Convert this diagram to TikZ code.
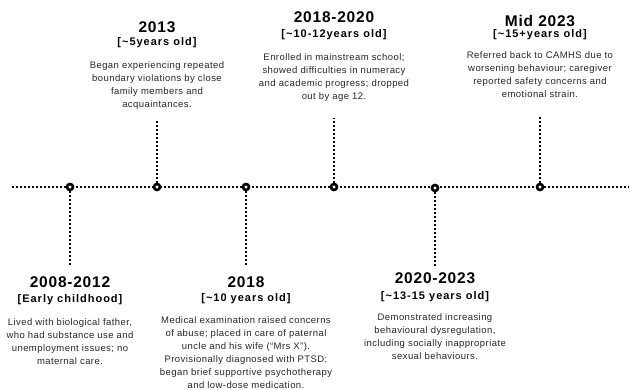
\documentclass[tikz,border=0pt]{standalone}
\usepackage{fontspec}
\setmainfont{Liberation Sans}
\newfontfamily\titlefont[LetterSpace=5]{Liberation Sans}
\newfontfamily\agefont[LetterSpace=9]{Liberation Sans}
\newfontfamily\bodyfont[LetterSpace=4.5]{Liberation Sans}

\begin{document}
\begin{tikzpicture}[x=1pt, y=-1pt]
    \tikzset{year/.style = {font=\titlefont\bfseries\fontsize{15.5}{18}\selectfont, inner sep=0pt}}
    \tikzset{age/.style = {font=\agefont\bfseries\fontsize{11}{13}\selectfont, inner sep=0pt}}
    \tikzset{note/.style = {font=\bodyfont\fontsize{9.5}{13}\selectfont, text=black!85, align=center, inner sep=0pt, anchor=north}}
    \tikzset{dots/.style = {draw, line width=2.2pt, dash pattern=on 1.6pt off 2.4pt}}
    \tikzset{ring/.style = {shape=circle, draw, fill=white, line width=2.6pt, minimum size=6pt, inner sep=0pt}}

    \useasboundingbox (0,0) rectangle (630,390);

    % timeline
    \coordinate (start) at (12,187);
    \coordinate (end) at (629,187);
    \draw[dots] (start) -- (end);

    % stub ends
    \coordinate (s1) at (70,267);
    \coordinate (s2) at (157,120);
    \coordinate (s3) at (246,267);
    \coordinate (s4) at (334,118);
    \coordinate (s5) at (435,267);
    \coordinate (s6) at (540,117);

    % rings
    \node[ring] (e1) at (70,187) {};
    \node[ring] (e2) at (157,187) {};
    \node[ring] (e3) at (246,187) {};
    \node[ring] (e4) at (334,187) {};
    \node[ring] (e5) at (435,188) {};
    \node[ring] (e6) at (540,187) {};

    % stubs
    \draw[dots] (e1) -- (s1);
    \draw[dots] (e2) -- (s2);
    \draw[dots] (e3) -- (s3);
    \draw[dots] (e4) -- (s4);
    \draw[dots] (e5) -- (s5);
    \draw[dots] (e6) -- (s6);

    % labels
    \node[year] (y1) at (70,282) {2008-2012};
    \node[age] (a1) at (70,300) {[Early childhood]};
    \node[note] (n1) at (70,318.5) {Lived with biological father,\\who had substance use and\\unemployment issues; no\\maternal care.};

    \node[year] (y2) at (157,27) {2013};
    \node[age] (a2) at (157,43) {[\textasciitilde5years old]};
    \node[note] (n2) at (157,61.5) {Began experiencing repeated\\boundary violations by close\\family members and\\acquaintances.};

    \node[year] (y3) at (246,282) {2018};
    \node[age] (a3) at (246,299) {[\textasciitilde10 years old]};
    \node[note] (n3) at (246,316.5) {Medical examination raised concerns\\of abuse; placed in care of paternal\\uncle and his wife (“Mrs X”).\\Provisionally diagnosed with PTSD;\\began brief supportive psychotherapy\\and low-dose medication.};

    \node[year] (y4) at (334,17) {2018-2020};
    \node[age] (a4) at (334,35) {[\textasciitilde10-12years old]};
    \node[note] (n4) at (334,53.5) {Enrolled in mainstream school;\\showed difficulties in numeracy\\and academic progress; dropped\\out by age 12.};

    \node[year] (y5) at (435,278) {2020-2023};
    \node[age] (a5) at (435,297) {[\textasciitilde13-15 years old]};
    \node[note] (n5) at (435,313) {Demonstrated increasing\\behavioural dysregulation,\\including socially inappropriate\\sexual behaviours.};

    \node[year] (y6) at (540,21) {Mid 2023};
    \node[age] (a6) at (540,35) {[\textasciitilde15+years old]};
    \node[note] (n6) at (540,51.5) {Referred back to CAMHS due to\\worsening behaviour; caregiver\\reported safety concerns and\\emotional strain.};
\end{tikzpicture}
\end{document}
